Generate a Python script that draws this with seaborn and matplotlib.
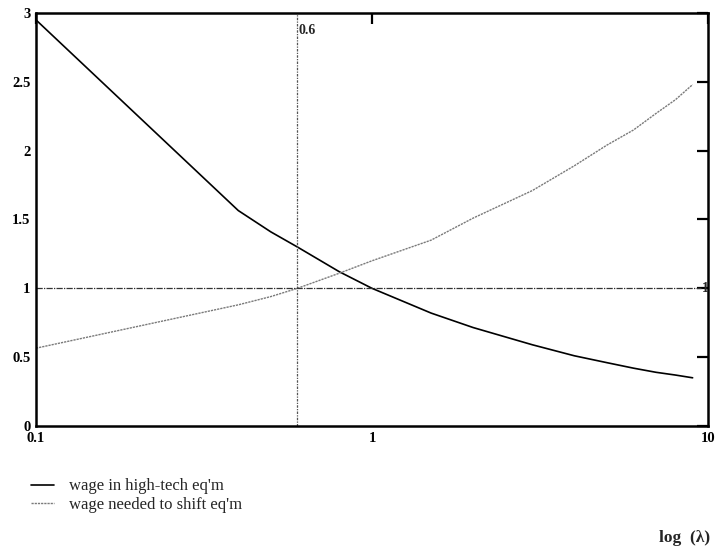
import matplotlib
matplotlib.use("Agg")
import matplotlib.pyplot as plt
import seaborn as sns
import pandas as pd

# lambda grid and the two wage curves
lam = [0.1, 0.4, 0.5, 0.6, 0.8, 1.0, 1.5, 2.0, 3.0, 4.0, 5.0, 6.0, 7.0, 8.0, 9.0]
wage_high_tech = [2.95, 1.565, 1.41, 1.30, 1.12, 1.0, 0.82, 0.715, 0.59, 0.51, 0.46, 0.42, 0.39, 0.37, 0.35]
wage_shift = [0.565, 0.88, 0.94, 1.0, 1.11, 1.20, 1.35, 1.51, 1.71, 1.89, 2.04, 2.15, 2.27, 2.37, 2.48]

series_labels = ["wage in high-tech eq'm", "wage needed to shift eq'm"]
ref_lambda = 0.6
ref_wage = 1.0
y_ticks = [0, 0.5, 1, 1.5, 2, 2.5, 3]
y_tick_labels = ["0", "0.5", "1", "1.5", "2", "2.5", "3"]
x_ticks = [0.1, 1, 10]
x_tick_labels = ["0.1", "1", "10"]
x_title = "log  (\u03bb)"

sns.set_theme(style="white")
plt.rcParams["font.family"] = ["Liberation Serif", "DejaVu Serif"]

df = pd.DataFrame({"lam": lam, "high": wage_high_tech, "shift": wage_shift})

fig = plt.figure(figsize=(7.15, 5.53), dpi=100)
ax = fig.add_axes([0.0503, 0.2297, 0.9399, 0.7468])

sns.lineplot(data=df, x="lam", y="high", ax=ax, color="black", lw=1.2,
             label=series_labels[0])
sns.lineplot(data=df, x="lam", y="shift", ax=ax, color="#7a7a7a", lw=1.0,
             linestyle=(0, (1.6, 0.7)), label=series_labels[1])

# reference lines
ax.axvline(ref_lambda, color="#555555", lw=0.9, linestyle=(0, (2, 1, 1, 1)))
ax.plot([0.1, 9.5], [ref_wage, ref_wage], color="#333333", lw=0.9,
        linestyle=(0, (5, 1, 1, 1)))
ax.text(ref_lambda * 1.005, 2.87, "0.6", fontsize=10, fontweight="bold",
        ha="left", va="center")
ax.text(9.6, ref_wage, "1", fontsize=10, fontweight="bold",
        ha="left", va="center")

ax.set_xscale("log")
ax.set_xlim(0.1, 10)
ax.set_ylim(0, 3)
ax.set_xticks(x_ticks)
ax.set_xticklabels(x_tick_labels)
ax.set_yticks(y_ticks)
ax.set_yticklabels(y_tick_labels)
ax.minorticks_off()
ax.xaxis.set_minor_locator(matplotlib.ticker.NullLocator())
ax.tick_params(axis="both", which="major", direction="in", length=8, width=1.6,
               top=True, right=True, labelsize=10.5, colors="black", pad=4)
for lbl in ax.get_xticklabels() + ax.get_yticklabels():
    lbl.set_fontweight("bold")
ax.set_xlabel("")
ax.set_ylabel("")
for sp in ax.spines.values():
    sp.set_visible(True)
    sp.set_color("black")
    sp.set_linewidth(1.8)

ax.legend(loc="upper left", bbox_to_anchor=(0.044, 0.135),
          bbox_transform=fig.transFigure, frameon=False, fontsize=12,
          handlelength=1.35, handletextpad=0.9, labelspacing=0.17,
          borderaxespad=0, borderpad=0)

fig.text(0.958, 0.028, x_title, fontsize=12.5, fontweight="bold",
         ha="center", va="center")

fig.savefig("out.png", dpi=100)
